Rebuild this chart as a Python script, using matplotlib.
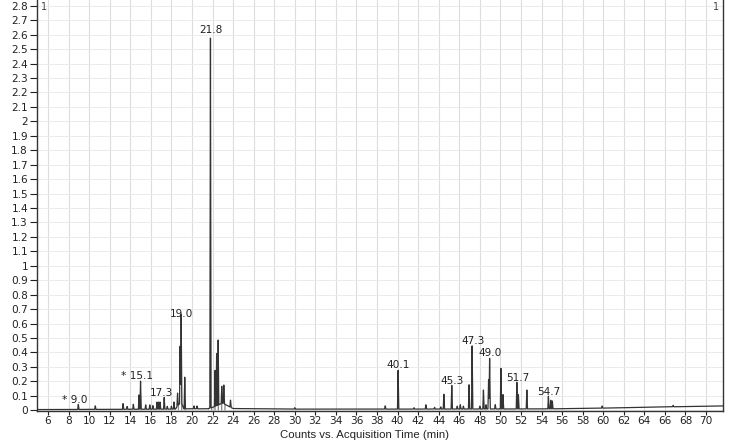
import numpy as np
import matplotlib
matplotlib.use("Agg")
import matplotlib.pyplot as plt
from matplotlib.ticker import FuncFormatter

# ---- data ----
peak_times = [8.95, 10.6, 13.3, 13.7, 14.3, 14.85, 15.0, 15.5, 15.9, 16.2, 16.6, 16.75, 16.9,
              17.3, 17.6, 18.0, 18.25, 18.6, 18.85, 18.95, 19.3, 20.2, 20.5,
              21.8, 22.25, 22.4, 22.55, 22.9, 23.1, 23.75,
              30.0, 38.8, 40.05, 41.6, 42.75, 43.6, 44.2, 44.5, 45.27, 45.8, 46.1, 46.4,
              46.95, 47.25, 48.0, 48.35, 48.6, 48.85, 48.95, 49.5, 50.05, 50.25,
              51.6, 51.75, 52.57, 54.67, 54.9, 55.05, 59.9, 66.8]
peak_heights = [0.035, 0.025, 0.04, 0.02, 0.035, 0.10, 0.196, 0.03, 0.03, 0.025, 0.05, 0.05, 0.05,
                0.083, 0.02, 0.02, 0.05, 0.09, 0.40, 0.617, 0.22, 0.02, 0.02,
                2.59, 0.25, 0.36, 0.45, 0.12, 0.13, 0.05,
                0.01, 0.023, 0.268, 0.01, 0.03, 0.012, 0.015, 0.104, 0.168, 0.02, 0.03, 0.02,
                0.168, 0.438, 0.02, 0.134, 0.03, 0.21, 0.36, 0.03, 0.283, 0.10,
                0.187, 0.10, 0.134, 0.088, 0.06, 0.055, 0.015, 0.01]

base_times = [5, 10, 18.4, 18.7, 19.0, 19.2, 21.5, 22.0, 22.5, 23.0, 23.5, 24.0, 30, 40, 50, 55, 60, 65, 71.6]
base_levels = [0.005, 0.006, 0.008, 0.04, 0.05, 0.01, 0.01, 0.02, 0.035, 0.05, 0.03, 0.012,
               0.008, 0.008, 0.009, 0.01, 0.015, 0.022, 0.03]

labels = ["* 9.0", "* 15.1", "17.3", "19.0", "21.8", "40.1", "45.3", "47.3", "49.0", "51.7", "54.7"]
label_x = [8.6, 14.7, 17.0, 19.0, 21.8, 40.1, 45.3, 47.3, 49.0, 51.7, 54.7]
label_y = [0.048, 0.214, 0.097, 0.643, 2.613, 0.29, 0.185, 0.456, 0.376, 0.203, 0.104]

x_ticks = list(range(6, 72, 2))
y_ticks = [round(0.1 * i, 1) for i in range(0, 29)]

# ---- build trace ----
t = np.linspace(5, 71.6, 20000)
y = np.interp(t, base_times, base_levels)
hw = 0.06
for tp, h in zip(peak_times, peak_heights):
    y = y + h * np.clip(1 - np.abs(t - tp) / hw, 0, None)

fig = plt.figure(figsize=(7.5, 4.46), dpi=100)
ax = fig.add_axes([37 / 750, 1 - 411 / 446, (723 - 37) / 750, 411 / 446])
ax.set_xlim(4.93, 71.65)
ax.set_ylim(-0.005, 2.84)

for xt in x_ticks:
    ax.axvline(xt, color="#dcdcdc", lw=0.8, zorder=0)
for yt in y_ticks:
    ax.axhline(yt, color="#e8e8e8", lw=0.6, zorder=0)

ax.plot(t, y, color="#333333", lw=0.9, zorder=3)
for lo, hi in [(18.6, 19.4), (21.6, 23.3)]:
    m = (t >= lo) & (t <= hi)
    ax.fill_between(t[m], 0, y[m], facecolor="none", edgecolor="#888888", hatch="|||||", lw=0, zorder=2)

for s, xx, yy in zip(labels, label_x, label_y):
    ax.text(xx, yy, s, ha="center", va="baseline", fontsize=7.6, color="#222222",
            family="DejaVu Sans")

ax.text(0.006, 0.995, "1", transform=ax.transAxes, ha="left", va="top", fontsize=7, color="#444444")
ax.text(0.985, 0.995, "1", transform=ax.transAxes, ha="left", va="top", fontsize=7, color="#444444")

ax.set_xticks(x_ticks)
ax.set_yticks(y_ticks)
ax.yaxis.set_major_formatter(FuncFormatter(lambda v, p: f"{v:g}"))
ax.tick_params(axis="y", labelsize=7.6, length=5, width=0.8, colors="#222222", pad=1.5)
ax.tick_params(axis="x", labelsize=7.6, length=3, width=0.8, colors="#222222", pad=0.5)
for lab in ax.get_xticklabels() + ax.get_yticklabels():
    lab.set_family("DejaVu Sans")
ax.spines["top"].set_visible(False)
for sp in ["left", "bottom", "right"]:
    ax.spines[sp].set_color("#333333")
    ax.spines[sp].set_linewidth(1.0)

fig.text(365 / 750, 1 - 435 / 446, "Counts vs. Acquisition Time (min)", ha="center", va="center",
         fontsize=8.2, family="Liberation Sans", color="#222222")

fig.savefig("out.png", dpi=100)
